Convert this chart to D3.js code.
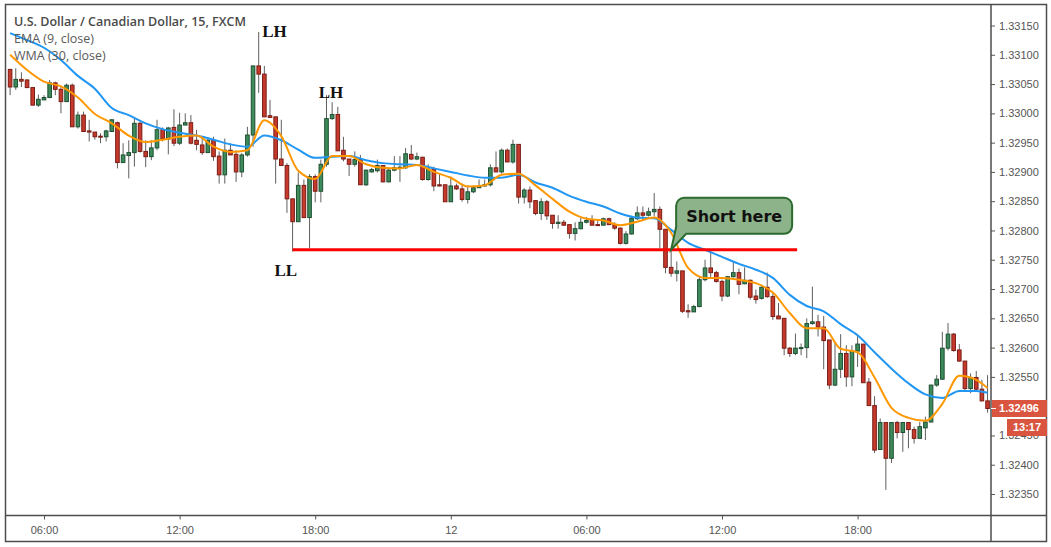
<!DOCTYPE html>
<html>
<head>
<meta charset="utf-8">
<script src="https://cdn.jsdelivr.net/npm/d3@7"></script>
<style>
html,body{margin:0;padding:0;background:#fff;}
svg{display:block;}
</style>
</head>
<body>
<svg id="chart" width="1051" height="547"></svg>
<script>
const title = "U.S. Dollar / Canadian Dollar, 15, FXCM";
const legendLabels = ["EMA (9, close)", "WMA (30, close)"];
const startTime = new Date(2019, 0, 11, 4, 30);
const barMinutes = 15;

const opens = [1.33075,1.33045,1.33058,1.33057,1.33044,1.33014,1.33023,1.33027,1.33052,1.33041,
1.33020,1.33048,1.32977,1.32997,1.32970,1.32968,1.32961,1.32960,1.32969,1.32984,
1.32916,1.32928,1.32933,1.32983,1.32935,1.32926,1.32941,1.32972,1.32956,1.32976,
1.32949,1.32980,1.32984,1.32954,1.32946,1.32933,1.32954,1.32927,1.32895,1.32937,
1.32930,1.32900,1.32929,1.32963,1.33081,1.33067,1.32996,1.32994,1.32922,1.32911,
1.32854,1.32815,1.32877,1.32822,1.32892,1.32867,1.32913,1.32991,1.32998,1.32937,
1.32922,1.32913,1.32921,1.32878,1.32900,1.32902,1.32911,1.32883,1.32903,1.32907,
1.32907,1.32930,1.32922,1.32925,1.32887,1.32905,1.32878,1.32878,1.32849,1.32876,
1.32871,1.32853,1.32866,1.32873,1.32876,1.32878,1.32907,1.32900,1.32937,1.32917,
1.32947,1.32857,1.32869,1.32851,1.32829,1.32849,1.32826,1.32812,1.32814,1.32810,
1.32795,1.32803,1.32814,1.32818,1.32810,1.32809,1.32820,1.32810,1.32804,1.32778,
1.32794,1.32820,1.32830,1.32826,1.32832,1.32836,1.32802,1.32737,1.32727,1.32731,
1.32663,1.32661,1.32670,1.32716,1.32736,1.32728,1.32713,1.32688,1.32721,1.32728,
1.32709,1.32715,1.32688,1.32684,1.32703,1.32687,1.32654,1.32650,1.32599,1.32590,
1.32599,1.32600,1.32641,1.32644,1.32635,1.32613,1.32536,1.32563,1.32590,1.32550,
1.32594,1.32606,1.32541,1.32501,1.32426,1.32472,1.32411,1.32472,1.32455,1.32472,
1.32460,1.32445,1.32463,1.32473,1.32536,1.32546,1.32599,1.32623,1.32596,1.32577,
1.32530,1.32549,1.32529,1.32509];

const highs = [1.33076,1.33077,1.33070,1.33058,1.33044,1.33032,1.33031,1.33057,1.33054,1.33045,
1.33051,1.33051,1.33003,1.33003,1.32989,1.32968,1.32966,1.32972,1.32990,1.32986,
1.32949,1.32954,1.32994,1.32986,1.32954,1.32954,1.32989,1.32976,1.32977,1.33007,
1.33001,1.33000,1.32997,1.32972,1.32957,1.32957,1.32960,1.32935,1.32957,1.32949,
1.32937,1.32932,1.32977,1.33081,1.33139,1.33081,1.33023,1.32994,1.32989,1.32915,
1.32854,1.32899,1.32887,1.32896,1.32896,1.32921,1.33031,1.33019,1.33011,1.32960,
1.32922,1.32935,1.32929,1.32904,1.32907,1.32921,1.32911,1.32907,1.32927,1.32927,
1.32941,1.32946,1.32933,1.32926,1.32913,1.32909,1.32898,1.32878,1.32892,1.32880,
1.32880,1.32877,1.32877,1.32887,1.32887,1.32913,1.32935,1.32940,1.32940,1.32955,
1.32947,1.32872,1.32875,1.32852,1.32855,1.32852,1.32826,1.32826,1.32818,1.32810,
1.32814,1.32823,1.32823,1.32826,1.32818,1.32822,1.32822,1.32814,1.32805,1.32799,
1.32824,1.32841,1.32841,1.32839,1.32864,1.32841,1.32802,1.32766,1.32747,1.32731,
1.32674,1.32673,1.32722,1.32750,1.32766,1.32731,1.32716,1.32722,1.32747,1.32735,
1.32737,1.32716,1.32699,1.32705,1.32728,1.32693,1.32676,1.32650,1.32601,1.32624,
1.32607,1.32650,1.32704,1.32656,1.32654,1.32613,1.32610,1.32623,1.32604,1.32604,
1.32621,1.32606,1.32548,1.32517,1.32479,1.32472,1.32473,1.32475,1.32473,1.32473,
1.32465,1.32473,1.32482,1.32536,1.32553,1.32627,1.32642,1.32625,1.32606,1.32577,
1.32556,1.32560,1.32545,1.32553];

const lows = [1.33031,1.33040,1.33045,1.33043,1.33014,1.33011,1.33023,1.33026,1.33031,1.33000,
1.33020,1.32977,1.32974,1.32969,1.32952,1.32955,1.32949,1.32952,1.32969,1.32906,
1.32916,1.32889,1.32909,1.32933,1.32908,1.32920,1.32937,1.32952,1.32930,1.32944,
1.32946,1.32980,1.32947,1.32937,1.32929,1.32932,1.32919,1.32880,1.32880,1.32929,
1.32883,1.32891,1.32926,1.32943,1.33035,1.32994,1.32993,1.32880,1.32911,1.32830,
1.32764,1.32815,1.32822,1.32770,1.32848,1.32848,1.32909,1.32989,1.32936,1.32918,
1.32893,1.32909,1.32878,1.32876,1.32899,1.32899,1.32882,1.32882,1.32901,1.32883,
1.32905,1.32920,1.32920,1.32885,1.32885,1.32867,1.32875,1.32849,1.32849,1.32869,
1.32849,1.32846,1.32864,1.32873,1.32875,1.32875,1.32900,1.32897,1.32917,1.32914,
1.32846,1.32846,1.32838,1.32826,1.32818,1.32818,1.32803,1.32803,1.32808,1.32786,
1.32783,1.32802,1.32812,1.32809,1.32809,1.32809,1.32809,1.32801,1.32776,1.32776,
1.32793,1.32818,1.32818,1.32824,1.32824,1.32770,1.32727,1.32721,1.32713,1.32659,
1.32651,1.32661,1.32669,1.32713,1.32720,1.32711,1.32679,1.32686,1.32720,1.32691,
1.32708,1.32682,1.32675,1.32682,1.32685,1.32647,1.32649,1.32587,1.32584,1.32587,
1.32587,1.32582,1.32639,1.32619,1.32563,1.32529,1.32534,1.32548,1.32533,1.32534,
1.32567,1.32540,1.32501,1.32420,1.32426,1.32357,1.32403,1.32445,1.32422,1.32428,
1.32436,1.32445,1.32442,1.32472,1.32533,1.32545,1.32595,1.32593,1.32576,1.32527,
1.32522,1.32526,1.32508,1.32489];

const closes = [1.33045,1.33058,1.33055,1.33044,1.33014,1.33024,1.33027,1.33052,1.33041,1.33020,
1.33048,1.32977,1.32997,1.32969,1.32968,1.32960,1.32960,1.32970,1.32989,1.32916,
1.32929,1.32933,1.32983,1.32935,1.32926,1.32941,1.32972,1.32956,1.32975,1.32949,
1.32980,1.32984,1.32949,1.32947,1.32933,1.32954,1.32926,1.32895,1.32937,1.32929,
1.32900,1.32929,1.32963,1.33081,1.33067,1.32994,1.32993,1.32922,1.32911,1.32854,
1.32815,1.32877,1.32822,1.32892,1.32867,1.32913,1.32991,1.32998,1.32936,1.32922,
1.32913,1.32921,1.32878,1.32903,1.32904,1.32911,1.32883,1.32903,1.32907,1.32908,
1.32931,1.32922,1.32926,1.32887,1.32905,1.32876,1.32876,1.32849,1.32876,1.32871,
1.32853,1.32866,1.32873,1.32876,1.32878,1.32907,1.32900,1.32937,1.32917,1.32947,
1.32857,1.32869,1.32849,1.32829,1.32849,1.32825,1.32812,1.32814,1.32809,1.32795,
1.32803,1.32814,1.32817,1.32809,1.32809,1.32820,1.32810,1.32804,1.32778,1.32794,
1.32821,1.32830,1.32826,1.32832,1.32836,1.32802,1.32737,1.32727,1.32731,1.32662,
1.32661,1.32670,1.32716,1.32736,1.32728,1.32713,1.32688,1.32721,1.32728,1.32708,
1.32715,1.32686,1.32682,1.32703,1.32687,1.32653,1.32649,1.32599,1.32590,1.32599,
1.32600,1.32641,1.32644,1.32635,1.32612,1.32536,1.32563,1.32590,1.32550,1.32594,
1.32606,1.32540,1.32501,1.32425,1.32472,1.32411,1.32472,1.32455,1.32472,1.32460,
1.32445,1.32465,1.32473,1.32536,1.32546,1.32599,1.32623,1.32595,1.32577,1.32530,
1.32549,1.32529,1.32509,1.32496];

// indicator values read at every third bar (plus the last bar)
const indicatorBars = [0,3,6,9,12,15,18,21,24,27,30,33,36,39,42,45,48,51,54,57,60,63,66,69,72,75,78,81,84,87,90,93,96,99,102,105,108,111,114,117,120,123,126,129,132,135,138,141,144,147,150,153,156,159,162,165,168,171,173];
const ema9 = [1.33100,1.33074,1.33054,1.33046,1.33027,1.32999,1.32983,1.32962,1.32951,1.32955,
1.32960,1.32962,1.32943,1.32934,1.32937,1.32988,1.32961,1.32902,1.32888,1.32927,
1.32927,1.32913,1.32907,1.32906,1.32912,1.32900,1.32890,1.32875,1.32877,1.32895,
1.32897,1.32877,1.32854,1.32832,1.32820,1.32817,1.32809,1.32815,1.32822,1.32796,
1.32736,1.32719,1.32719,1.32716,1.32710,1.32694,1.32659,1.32633,1.32633,1.32598,
1.32592,1.32549,1.32497,1.32480,1.32475,1.32504,1.32552,1.32545,1.32531];
const wma30 = [1.33137,1.33125,1.33112,1.33091,1.33064,1.33042,1.33009,1.32997,1.32983,1.32973,
1.32967,1.32962,1.32955,1.32947,1.32943,1.32962,1.32954,1.32938,1.32924,1.32926,
1.32927,1.32920,1.32915,1.32913,1.32912,1.32906,1.32900,1.32894,1.32890,1.32890,
1.32895,1.32882,1.32873,1.32859,1.32849,1.32841,1.32829,1.32822,1.32821,1.32801,
1.32779,1.32767,1.32755,1.32743,1.32733,1.32719,1.32690,1.32671,1.32662,1.32640,
1.32621,1.32592,1.32564,1.32539,1.32520,1.32514,1.32526,1.32526,1.32523];

// 1.32500 is hidden behind the last-price label in the reference, so it is not listed
const yTickValues = [1.32350,1.32400,1.32450,1.32550,1.32600,1.32650,1.32700,1.32750,1.32800,1.32850,1.32900,1.32950,1.33000,1.33050,1.33100,1.33150];
const xTickLabels = ["06:00","12:00","18:00","12","06:00","12:00","18:00"];

// annotations
const swingLabels = [
  {text:"LH", bar:46.8, price:1.33139},
  {text:"LH", bar:56.8, price:1.33035},
  {text:"LL", bar:48.8, price:1.32731}
];
const supportLevel = {price:1.32767, fromBar:50, toBar:139.3};
const callout = {text:"Short here", bar:117, price:1.32767};
const lastPrice = 1.32496;
const countdown = "13:17";

// ---------- drawing ----------
const svg = d3.select("#chart");
const n = opens.length;
const times = d3.range(n).map(i => d3.timeMinute.offset(startTime, barMinutes * i));
const barTime = b => new Date(startTime.getTime() + b * barMinutes * 60000);

const plot = {left:5.5, top:4.5, right:991, bottom:515.5};
const x = d3.scaleTime().domain([times[0], times[n-1]]).range([10.1, 987.55]);
const y = d3.scaleLinear().domain([1.32350, 1.33150]).range([494, 25.5]);

svg.append("rect").attr("width",1051).attr("height",547).attr("fill","#fff");

svg.append("defs").append("clipPath").attr("id","clip")
  .append("rect").attr("x",plot.left).attr("y",plot.top)
  .attr("width",plot.right-plot.left).attr("height",plot.bottom-plot.top);

const g = svg.append("g").attr("clip-path","url(#clip)");

// candles
const candles = d3.range(n).map(i => ({t:times[i], o:opens[i], h:highs[i], l:lows[i], c:closes[i]}));
const cg = g.append("g");
cg.selectAll("line.wick").data(candles).join("line")
  .attr("class","wick")
  .attr("x1", d => x(d.t)).attr("x2", d => x(d.t))
  .attr("y1", d => y(d.h)).attr("y2", d => y(d.l))
  .attr("stroke","#5f5f5f").attr("stroke-width",1);
cg.selectAll("rect.body").data(candles).join("rect")
  .attr("class","body")
  .attr("x", d => x(d.t) - 1.8).attr("width", 3.6)
  .attr("y", d => y(Math.max(d.o,d.c)))
  .attr("height", d => Math.max(1, Math.abs(y(d.o) - y(d.c))))
  .attr("fill", d => d.c >= d.o ? "#3d8a5b" : "#c53a2c")
  .attr("stroke", d => d.c >= d.o ? "#1f4f33" : "#7b1d15")
  .attr("stroke-width", 1);

// indicator lines
const line = d3.line().x(d => x(times[d.b])).y(d => y(d.v)).curve(d3.curveMonotoneX);
g.append("path").datum(indicatorBars.map((b,k) => ({b, v:wma30[k]})))
  .attr("d", line).attr("fill","none").attr("stroke","#2196f3").attr("stroke-width",2);
g.append("path").datum(indicatorBars.map((b,k) => ({b, v:ema9[k]})))
  .attr("d", line).attr("fill","none").attr("stroke","#ff9800").attr("stroke-width",2);

// support line
svg.append("line")
  .attr("x1", x(barTime(supportLevel.fromBar))).attr("x2", x(barTime(supportLevel.toBar)))
  .attr("y1", y(supportLevel.price)).attr("y2", y(supportLevel.price))
  .attr("stroke","#ff0000").attr("stroke-width",3);

// swing labels
svg.selectAll("text.swing").data(swingLabels).join("text")
  .attr("class","swing")
  .attr("x", d => x(barTime(d.bar)))
  .attr("y", d => y(d.price))
  .attr("text-anchor","middle").attr("dominant-baseline","central")
  .attr("font-family","'Liberation Serif', 'Courier New', serif")
  .attr("font-weight","bold").attr("font-size",17).attr("fill","#111")
  .text(d => d.text);

// callout
{
  const tx = x(barTime(callout.bar)), ty = y(callout.price);
  const bx = tx + 5, by = ty - 52, bw = 116, bh = 36, r = 8;
  const p = d3.path();
  p.moveTo(bx + r, by);
  p.lineTo(bx + bw - r, by);
  p.arcTo(bx + bw, by, bx + bw, by + r, r);
  p.lineTo(bx + bw, by + bh - r);
  p.arcTo(bx + bw, by + bh, bx + bw - r, by + bh, r);
  p.lineTo(bx + 10, by + bh);
  p.lineTo(tx, ty);
  p.lineTo(bx, by + bh - 7);
  p.lineTo(bx, by + r);
  p.arcTo(bx, by, bx + r, by, r);
  p.closePath();
  svg.append("path").attr("d", p.toString())
    .attr("fill","#8db38b").attr("stroke","#2c6a2e").attr("stroke-width",2);
  svg.append("text").attr("x", bx + bw/2).attr("y", by + bh/2 + 1)
    .attr("text-anchor","middle").attr("dominant-baseline","central")
    .attr("font-family","'DejaVu Sans', Verdana, sans-serif")
    .attr("font-weight","bold").attr("font-size",16).attr("fill","#111")
    .text(callout.text);
}

// legend
const legend = svg.append("g").attr("font-family","'Open Sans', sans-serif");
legend.append("text").attr("x",14).attr("y",26).attr("font-size",12.5).attr("font-weight",600)
  .attr("fill","#4a4a4a").text(title);
legendLabels.forEach((s,k) => {
  legend.append("text").attr("x",14).attr("y",43 + k*17).attr("font-size",12.5)
    .attr("fill","#5a5a5a").text(s);
});

// axes
const yAxis = d3.axisRight(y).tickValues(yTickValues).tickSize(4).tickPadding(4)
  .tickFormat(d3.format(".5f"));
const ya = svg.append("g").attr("transform",`translate(${plot.right},0)`).call(yAxis);
ya.select(".domain").remove();
ya.selectAll("line").attr("stroke","#555");
ya.selectAll("text").attr("fill","#555").attr("font-size",11)
  .attr("font-family","'Liberation Sans', Arial, sans-serif");

const xTickTimes = times.filter(t => t.getMinutes() === 0 && t.getHours() % 6 === 0);
const xAxis = d3.axisBottom(x).tickValues(xTickTimes).tickSize(4).tickPadding(7)
  .tickFormat((d,k) => xTickLabels[k]);
const xa = svg.append("g").attr("transform",`translate(0,${plot.bottom})`).call(xAxis);
xa.select(".domain").remove();
xa.selectAll("line").attr("stroke","#555");
xa.selectAll("text").attr("fill","#555").attr("font-size",11)
  .attr("font-family","'Liberation Sans', Arial, sans-serif");

// frame
const fr = svg.append("g").attr("stroke","#4d4d4d").attr("stroke-width",1.5).attr("fill","none");
fr.append("rect").attr("x",5.5).attr("y",4.5).attr("width",1041).attr("height",537);
fr.append("line").attr("x1",plot.right).attr("x2",plot.right).attr("y1",4.5).attr("y2",541.5);
fr.append("line").attr("x1",5.5).attr("x2",1046.5).attr("y1",plot.bottom).attr("y2",plot.bottom);

// last price label + countdown
{
  const ly = y(lastPrice);
  svg.append("rect").attr("x",plot.right + 1).attr("y",ly - 8.5).attr("width",55).attr("height",17)
    .attr("fill","#d9553f");
  svg.append("line").attr("x1",plot.right).attr("x2",plot.right + 5).attr("y1",ly).attr("y2",ly)
    .attr("stroke","#fff").attr("stroke-width",1);
  svg.append("text").attr("x",plot.right + 28).attr("y",ly).attr("text-anchor","middle")
    .attr("dominant-baseline","central").attr("fill","#fff").attr("font-weight","bold")
    .attr("font-size",11).attr("font-family","'Liberation Sans', Arial, sans-serif")
    .text(d3.format(".5f")(lastPrice));
  svg.append("rect").attr("x",1007).attr("y",ly + 10.5).attr("width",40).attr("height",17)
    .attr("fill","#d9553f");
  svg.append("text").attr("x",1027).attr("y",ly + 19).attr("text-anchor","middle")
    .attr("dominant-baseline","central").attr("fill","#fff").attr("font-weight","bold")
    .attr("font-size",11).attr("font-family","'Liberation Sans', Arial, sans-serif")
    .text(countdown);
}
</script>
</body>
</html>
